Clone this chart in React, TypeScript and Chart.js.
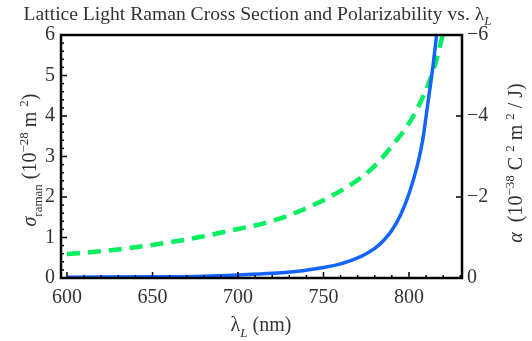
import React, { useEffect, useRef } from 'react';
import { Chart, registerables } from 'chart.js';
Chart.register(...registerables);

// ---- data ----
const blueLambda = [600, 650, 680, 700, 720, 735, 750, 755, 760, 765, 770, 775, 780, 785, 790, 795, 800, 805, 808, 811, 814, 816, 818];
const sigmaRaman = [0.02, 0.03, 0.045, 0.075, 0.115, 0.165, 0.26, 0.3, 0.35, 0.415, 0.495, 0.6, 0.73, 0.92, 1.18, 1.55, 2.08, 2.8, 3.4, 4.3, 5.22, 5.95, 6.7];
const greenLambda = [600, 620, 640, 660, 680, 700, 715, 730, 745, 760, 770, 780, 790, 800, 806, 812, 816, 819, 821];
const alphaPol = [-0.59, -0.66, -0.76, -0.88, -1.03, -1.21, -1.35, -1.55, -1.82, -2.15, -2.42, -2.77, -3.26, -3.82, -4.28, -4.86, -5.38, -5.88, -6.2];
const xTicks = [600, 650, 700, 750, 800];
const leftTicks = [0, 1, 2, 3, 4, 5, 6];
const rightTicks = [0, -2, -4, -6];

const FONT = '"Liberation Serif", "DejaVu Serif", serif';
const TEXT = '#333333';

type Part = { t: string; italic?: boolean; sub?: boolean; sup?: boolean };

function drawRich(ctx: CanvasRenderingContext2D, x: number, y: number, parts: Part[], size: number, align: 'center' | 'left') {
  const fontFor = (p: Part) => `${p.italic ? 'italic ' : ''}${p.sub || p.sup ? Math.round(size * 0.66) : size}px ${FONT}`;
  let total = 0;
  const widths = parts.map((p) => {
    ctx.font = fontFor(p);
    const w = ctx.measureText(p.t).width;
    total += w;
    return w;
  });
  let cx = align === 'center' ? x - total / 2 : x;
  ctx.textBaseline = 'alphabetic';
  ctx.textAlign = 'left';
  ctx.fillStyle = TEXT;
  parts.forEach((p, i) => {
    ctx.font = fontFor(p);
    const dy = p.sub ? size * 0.28 : p.sup ? -size * 0.42 : 0;
    ctx.fillText(p.t, cx, y + dy);
    cx += widths[i];
  });
}

const framePlugin = {
  id: 'frameAndText',
  afterDatasetsDraw(chart: any) {
    const { ctx, chartArea: a, scales } = chart;
    const xs = scales.x, yl = scales.y, yr = scales.y2;
    ctx.save();
    ctx.strokeStyle = '#000';
    ctx.lineWidth = 1.5;
    // bottom ticks
    for (let v = 600; v <= 830; v += 10) {
      const px = xs.getPixelForValue(v);
      const len = v % 50 === 0 ? 6 : 3;
      ctx.beginPath();
      ctx.moveTo(px, a.bottom);
      ctx.lineTo(px, a.bottom - len);
      ctx.stroke();
    }
    // left ticks
    for (let i = 0; i <= 30; i++) {
      const v = i / 5;
      const py = yl.getPixelForValue(v);
      const len = i % 5 === 0 ? 6 : 3;
      ctx.beginPath();
      ctx.moveTo(a.left, py);
      ctx.lineTo(a.left + len, py);
      ctx.stroke();
    }
    // right ticks
    rightTicks.forEach((v) => {
      const py = yr.getPixelForValue(v);
      ctx.beginPath();
      ctx.moveTo(a.right, py);
      ctx.lineTo(a.right - 6, py);
      ctx.stroke();
    });
    // frame
    ctx.lineWidth = 2.5;
    ctx.strokeRect(a.left, a.top, a.right - a.left, a.bottom - a.top);

    // title
    drawRich(ctx, 257.5, 20, [
      { t: 'Lattice Light Raman Cross Section and Polarizability vs. λ' },
      { t: 'L', italic: true, sub: true },
    ], 19.6, 'center');

    // x title
    drawRich(ctx, 261, 331, [
      { t: 'λ' },
      { t: 'L', italic: true, sub: true },
      { t: ' (nm)' },
    ], 20, 'center');

    // left title
    ctx.save();
    ctx.translate(36, 160);
    ctx.rotate(-Math.PI / 2);
    drawRich(ctx, 0, 0, [
      { t: 'σ', italic: true },
      { t: 'raman', sub: true },
      { t: ' (10' },
      { t: '−28', sup: true },
      { t: ' m ' },
      { t: '2', sup: true },
      { t: ')' },
    ], 20, 'center');
    ctx.restore();

    // right title
    ctx.save();
    ctx.translate(522, 163);
    ctx.rotate(-Math.PI / 2);
    drawRich(ctx, 0, 0, [
      { t: 'α', italic: true },
      { t: '  (10' },
      { t: '−38', sup: true },
      { t: ' C ' },
      { t: '2', sup: true },
      { t: ' m ' },
      { t: '2', sup: true },
      { t: ' / J)' },
    ], 20, 'center');
    ctx.restore();
    ctx.restore();
  },
};

export default function App() {
  const ref = useRef<HTMLCanvasElement | null>(null);
  useEffect(() => {
    if (!ref.current) return;
    const tickFont = { family: FONT, size: 20 };
    const chart = new Chart(ref.current, {
      type: 'line',
      data: {
        datasets: [
          {
            label: 'sigma',
            data: blueLambda.map((x, i) => ({ x, y: sigmaRaman[i] })),
            borderColor: '#1464ff',
            borderWidth: 3.5,
            pointRadius: 0,
            cubicInterpolationMode: 'monotone',
            yAxisID: 'y',
          },
          {
            label: 'alpha',
            data: greenLambda.map((x, i) => ({ x, y: alphaPol[i] })),
            borderColor: '#00f060',
            borderWidth: 4.5,
            borderDash: [13, 8],
            pointRadius: 0,
            cubicInterpolationMode: 'monotone',
            yAxisID: 'y2',
          },
        ],
      },
      options: {
        animation: false,
        responsive: false,
        maintainAspectRatio: false,
        layout: { padding: { top: 35, left: 0, right: 0, bottom: 0 } },
        plugins: { legend: { display: false }, tooltip: { enabled: false }, title: { display: false } },
        scales: {
          x: {
            type: 'linear',
            min: 596.5,
            max: 831,
            grid: { display: false, drawTicks: false },
            border: { display: false },
            ticks: { font: tickFont, color: TEXT, padding: 8, maxRotation: 0 },
            afterBuildTicks: (s: any) => { s.ticks = xTicks.map((v) => ({ value: v })); },
            afterFit: (s: any) => { s.height = 63; },
          },
          y: {
            type: 'linear',
            position: 'left',
            min: 0,
            max: 6,
            grid: { display: false, drawTicks: false },
            border: { display: false },
            ticks: { font: tickFont, color: TEXT, padding: 6 },
            afterBuildTicks: (s: any) => { s.ticks = leftTicks.map((v) => ({ value: v })); },
            afterFit: (s: any) => { s.width = 61; },
          },
          y2: {
            type: 'linear',
            position: 'right',
            min: -6,
            max: 0,
            reverse: true,
            grid: { display: false, drawTicks: false },
            border: { display: false },
            ticks: {
              font: tickFont,
              color: TEXT,
              padding: 5,
              callback: (v: any) => String(v).replace('-', '−'),
            },
            afterBuildTicks: (s: any) => { s.ticks = rightTicks.map((v) => ({ value: v })); },
            afterFit: (s: any) => { s.width = 70; },
          },
        },
      } as any,
      plugins: [framePlugin],
    });
    return () => chart.destroy();
  }, []);
  return (
    <div style={{ position: 'absolute', left: 0, top: 0, width: 532, height: 341, background: '#fff' }}>
      <canvas ref={ref} width={532} height={341} style={{ width: 532, height: 341 }} />
    </div>
  );
}
